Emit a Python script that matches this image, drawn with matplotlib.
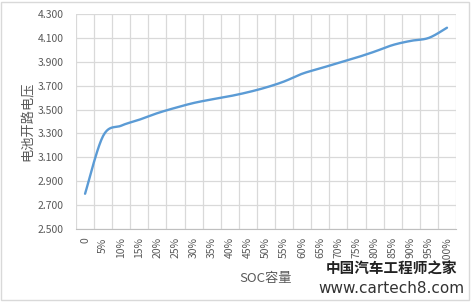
import numpy as np
import matplotlib
matplotlib.use('Agg')
import matplotlib.pyplot as plt
from matplotlib.patches import Rectangle

plt.rcParams['font.family'] = ['Noto Sans CJK SC', 'DejaVu Sans']

# data
soc_labels = ['0', '5%', '10%', '15%', '20%', '25%', '30%', '35%', '40%', '45%', '50%',
              '55%', '60%', '65%', '70%', '75%', '80%', '85%', '90%', '95%', '100%']
ocv = [2.795, 3.28, 3.365, 3.415, 3.47, 3.515, 3.555, 3.585, 3.612, 3.645, 3.685,
       3.735, 3.80, 3.845, 3.89, 3.935, 3.985, 4.04, 4.075, 4.10, 4.185]
y_ticks = [2.5, 2.7, 2.9, 3.1, 3.3, 3.5, 3.7, 3.9, 4.1, 4.3]


def smooth(x, y, n=20):
    # catmull-rom curve through the points, like excel's smoothed line
    x = np.asarray(x, float)
    y = np.asarray(y, float)
    px = np.r_[x[0], x, x[-1]]
    py = np.r_[y[0], y, y[-1]]
    t = np.linspace(0, 1, n, endpoint=False)
    xs, ys = [], []
    for i in range(1, len(px) - 2):
        for p, out in ((px, xs), (py, ys)):
            p0, p1, p2, p3 = p[i - 1], p[i], p[i + 1], p[i + 2]
            out.extend(0.5 * (2 * p1 + (-p0 + p2) * t + (2 * p0 - 5 * p1 + 4 * p2 - p3) * t ** 2
                              + (-p0 + 3 * p1 - 3 * p2 + p3) * t ** 3))
    xs.append(x[-1])
    ys.append(y[-1])
    return np.array(xs), np.array(ys)


fig = plt.figure(figsize=(4.71, 3.02), dpi=100)
fig.patches.append(Rectangle((0.003, 0.005), 0.992, 0.99, transform=fig.transFigure,
                             fill=False, edgecolor='#d9d9d9', linewidth=1))
ax = fig.add_axes([0.1614, 0.2417, 0.8068, 0.712])

xi = np.arange(len(ocv))
sx, sy = smooth(xi, ocv)
ax.plot(sx, sy, color='#5b9bd5', linewidth=1.7, solid_capstyle='round', zorder=3)

ax.set_xlim(-0.5, len(ocv) - 0.5)
ax.set_ylim(2.5, 4.3)
ax.set_yticks(y_ticks)
ax.set_yticklabels(['%.3f' % v for v in y_ticks])
ax.set_xticks(xi)
ax.set_xticklabels(soc_labels, rotation=90)
ax.set_xticks(np.arange(-0.5, len(ocv)), minor=True)

ax.grid(axis='y', which='major', color='#d9d9d9', linewidth=0.9)
ax.grid(axis='x', which='minor', color='#d9d9d9', linewidth=0.9)
for s in ['top', 'right', 'left']:
    ax.spines[s].set_visible(False)
ax.spines['bottom'].set_color('#bfbfbf')
ax.tick_params(axis='both', which='both', length=0, colors='#595959', labelsize=7.5)
ax.tick_params(axis='y', pad=9)
ax.tick_params(axis='x', pad=6)

ax.set_ylabel('电池开路电压', fontsize=9.5, color='#595959', labelpad=2)
ax.set_xlabel('SOC容量', fontsize=9.5, color='#595959', labelpad=6)

# watermark
fig.text(0.832, 0.110, '中国汽车工程师之家', fontsize=10.5, fontweight='bold',
         color='#222222', ha='center', va='center')
fig.text(0.832, 0.045, 'www.cartech8.com', fontsize=11, color='#333333',
         ha='center', va='center', family=['DejaVu Sans'])

fig.savefig('out.png', dpi=100)
